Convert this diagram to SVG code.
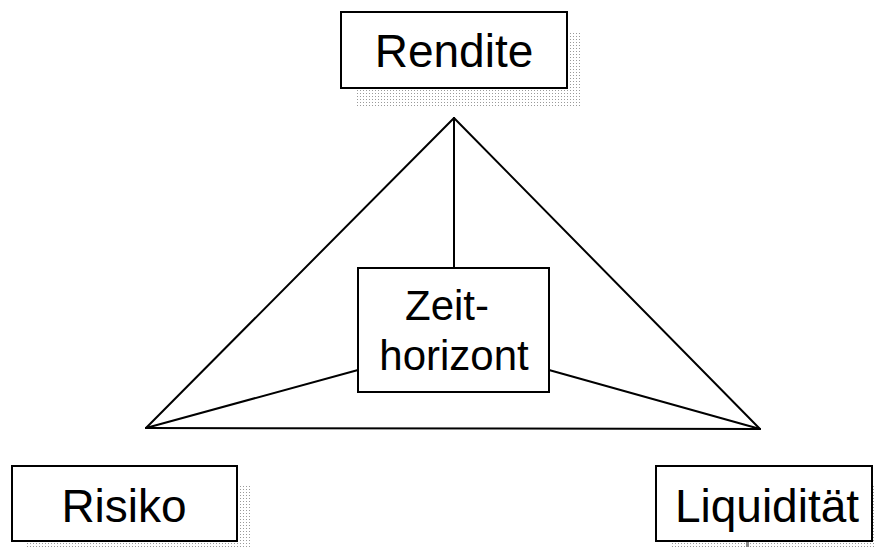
<svg xmlns="http://www.w3.org/2000/svg" width="876" height="547" viewBox="0 0 876 547">
  <defs>
    <!-- fine dot screen used for the drop shadows -->
    <pattern id="dots" width="3" height="3" patternUnits="userSpaceOnUse">
      <rect x="0" y="0" width="1" height="1" fill="#9a9a9a"/>
    </pattern>
    <style>
      .box { fill: #ffffff; stroke: #000000; stroke-width: 2; }
      .shadow { fill: url(#dots); }
      .lbl { font-family: "Liberation Sans", Arial, sans-serif; fill: #000000; }
      .big { font-size: 46px; }
      .mid { font-size: 42px; }
      .edge { stroke: #000000; stroke-width: 2; fill: none; stroke-linecap: round; }
    </style>
  </defs>
  <rect width="876" height="547" fill="#ffffff"/>

  <!-- connectors: triangle and spokes to the centre box -->
  <g id="connectors">
    <line class="edge" x1="454" y1="118" x2="146" y2="428"/>
    <line class="edge" x1="454" y1="118" x2="760" y2="429"/>
    <line class="edge" x1="146" y1="428" x2="760" y2="429"/>
    <line class="edge" x1="454" y1="118" x2="454" y2="268"/>
    <line class="edge" x1="146" y1="428" x2="358" y2="370"/>
    <line class="edge" x1="760" y1="429" x2="549" y2="370"/>
  </g>

  <g id="rendite">
    <rect class="shadow" x="356" y="31" width="226" height="76"/>
    <rect class="box" x="341" y="12" width="226" height="76"/>
    <text class="lbl big" x="454" y="67" text-anchor="middle">Rendite</text>
  </g>

  <g id="zeithorizont">
    <rect class="box" x="358" y="268" width="191" height="124"/>
    <text class="lbl mid" x="447" y="320" text-anchor="middle">Zeit-</text>
    <text class="lbl mid" x="454" y="370" text-anchor="middle">horizont</text>
  </g>

  <g id="risiko">
    <rect class="shadow" x="27" y="485" width="225" height="70"/>
    <rect class="box" x="12" y="466" width="225" height="75"/>
    <text class="lbl big" x="124" y="522" text-anchor="middle">Risiko</text>
  </g>

  <g id="liquiditaet">
    <rect class="shadow" x="671" y="485" width="220" height="70"/>
    <rect class="box" x="656" y="466" width="216" height="75"/>
    <text class="lbl big" x="767" y="522" text-anchor="middle">Liquidität</text>
    <rect x="746" y="542" width="3" height="5" fill="#8a8a8a"/>
  </g>
</svg>
